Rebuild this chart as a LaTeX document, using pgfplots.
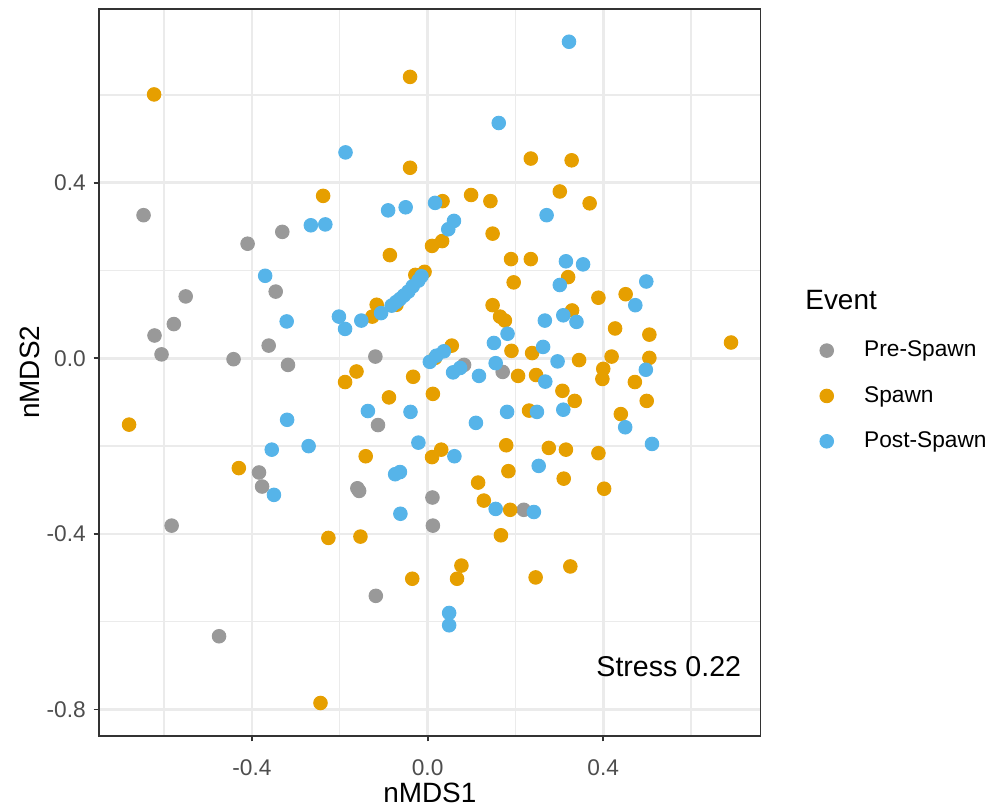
\documentclass[border=0pt]{standalone}
\usepackage{fontspec}
\setmainfont{Liberation Sans}
\usepackage{pgfplots}
\pgfplotsset{compat=1.18}
\definecolor{cpre}{HTML}{999999}
\definecolor{cspawn}{HTML}{E69F00}
\definecolor{cpost}{HTML}{56B4E9}
\definecolor{gridc}{HTML}{EBEBEB}
\definecolor{borderc}{HTML}{333333}
\definecolor{tickc}{HTML}{4D4D4D}
\begin{document}
\begin{tikzpicture}
\path[use as bounding box] (-43.7pt,-30.8pt) rectangle (393.3pt,324.2pt);
\begin{axis}[
  at={(0pt,0pt)}, anchor=south west,
  scale only axis, width=291.3pt, height=320.3pt,
  xmin=-0.748, xmax=0.758, ymin=-0.860, ymax=0.796,
  xtick={-0.4,0,0.4}, ytick={-0.8,-0.4,0,0.4},
  minor xtick={-0.6,-0.2,0.2,0.6}, minor ytick={-0.6,-0.2,0.2,0.6},
  grid=both,
  major grid style={draw=gridc, line width=1.1pt},
  minor grid style={draw=gridc, line width=0.6pt},
  minor tick length=0pt,
  major tick length=2.4pt,
  tick align=outside,
  tick pos=left,
  tick style={draw=borderc, line width=0.8pt},
  axis line style={draw=borderc, line width=0.8pt},
  scaled ticks=false,
  xticklabel={\pgfmathprintnumber[fixed,fixed zerofill,precision=1,assume math mode=true]{\tick}},
  yticklabel={\pgfmathprintnumber[fixed,fixed zerofill,precision=1,assume math mode=true]{\tick}},
  tick label style={font=\fontsize{10}{12}\selectfont, text=tickc},
  xticklabel style={yshift=-4.5pt},
  xlabel={nMDS1}, ylabel={nMDS2},
  every axis x label/.style={at={(rel axis cs:0.5,-0.0784)}, anchor=center, font=\fontsize{12.3}{14}\selectfont},
  every axis y label/.style={at={(rel axis cs:-0.1047,0.5)}, rotate=90, anchor=center, font=\fontsize{12.3}{14}\selectfont},
  legend style={draw=none, fill=none, at={(1.0790,0.5563)}, anchor=north west,
    font=\fontsize{10}{12}\selectfont, row sep=7.5pt, column sep=11.5pt},
  legend cell align=left,
  clip=false,
]
\addplot[only marks, mark=*, mark size=3pt, color=cpre] coordinates {
(-0.647,0.326) (-0.331,0.288) (-0.410,0.261) (-0.346,0.152) (-0.551,0.141)
(-0.578,0.078) (-0.622,0.052) (-0.362,0.029) (-0.606,0.009) (-0.442,-0.002)
(-0.318,-0.015) (-0.384,-0.260) (-0.377,-0.292) (-0.583,-0.381) (-0.475,-0.633)
(-0.119,0.004) (0.083,-0.015) (0.171,-0.031) (-0.113,-0.152) (-0.160,-0.296)
(-0.156,-0.302) (0.011,-0.317) (0.219,-0.345) (0.012,-0.381) (-0.118,-0.541)
};
\addlegendentry{Pre-Spawn}
\addplot[only marks, mark=*, mark size=3pt, color=cspawn] coordinates {
(-0.623,0.601) (-0.238,0.370) (-0.040,0.641) (-0.040,0.434) (0.235,0.455)
(0.034,0.358) (0.099,0.372) (0.143,0.358) (0.033,0.267) (0.010,0.256)
(0.148,0.284) (-0.086,0.235) (0.190,0.226) (0.235,0.226) (0.328,0.451)
(0.301,0.380) (0.369,0.353) (-0.680,-0.151) (-0.430,-0.250) (-0.226,-0.409)
(-0.244,-0.785) (0.196,0.173) (-0.007,0.197) (-0.028,0.190) (-0.071,0.122)
(-0.116,0.122) (-0.126,0.095) (0.148,0.121) (0.165,0.095) (0.176,0.086)
(0.191,0.017) (0.238,0.012) (0.055,0.029) (0.017,0.001) (0.206,-0.040)
(0.247,-0.038) (-0.162,-0.030) (-0.188,-0.054) (-0.033,-0.042) (-0.088,-0.089)
(0.012,-0.081) (0.231,-0.119) (0.179,-0.198) (0.276,-0.204) (-0.141,-0.223)
(0.031,-0.208) (0.010,-0.225) (0.184,-0.257) (0.115,-0.283) (0.128,-0.324)
(0.188,-0.345) (-0.153,-0.406) (0.167,-0.403) (0.077,-0.472) (0.067,-0.502)
(-0.035,-0.502) (0.246,-0.499) (0.325,-0.474) (0.320,0.185) (0.389,0.138)
(0.451,0.146) (0.329,0.109) (0.427,0.068) (0.505,0.054) (0.691,0.036)
(0.345,-0.004) (0.419,0.004) (0.505,0.001) (0.400,-0.024) (0.398,-0.047)
(0.472,-0.054) (0.307,-0.074) (0.335,-0.097) (0.499,-0.097) (0.440,-0.127)
(0.315,-0.208) (0.389,-0.216) (0.310,-0.274) (0.402,-0.297)
};
\addlegendentry{Spawn}
\addplot[only marks, mark=*, mark size=3pt, color=cpost] coordinates {
(-0.266,0.303) (-0.233,0.305) (0.162,0.536) (-0.187,0.469) (-0.090,0.337)
(-0.050,0.344) (0.017,0.354) (0.060,0.313) (0.047,0.294) (0.271,0.326)
(0.322,0.721) (0.315,0.221) (-0.370,0.188) (-0.321,0.084) (-0.320,-0.140)
(-0.271,-0.200) (-0.355,-0.208) (-0.350,-0.311)
(-0.014,0.187) (-0.021,0.177) (-0.034,0.164) (-0.044,0.152) (-0.054,0.143)
(-0.063,0.135) (-0.072,0.128) (-0.082,0.120) (-0.106,0.103)
(-0.151,0.086) (-0.202,0.095) (-0.188,0.067) (0.182,0.056) (0.151,0.035)
(0.267,0.086) (0.263,0.026) (0.005,-0.008) (0.020,0.006) (0.037,0.016)
(0.058,-0.032) (0.074,-0.022) (0.117,-0.040) (0.155,-0.011) (0.268,-0.053)
(-0.136,-0.120) (-0.039,-0.122) (0.110,-0.147) (0.181,-0.122) (0.249,-0.122)
(-0.021,-0.192) (0.061,-0.223) (0.253,-0.245) (-0.063,-0.259) (-0.074,-0.264)
(-0.062,-0.354) (0.155,-0.343) (0.242,-0.350) (0.049,-0.580) (0.049,-0.608)
(0.354,0.214) (0.301,0.167) (0.498,0.175) (0.473,0.121) (0.309,0.098)
(0.339,0.083) (0.296,-0.007) (0.497,-0.026) (0.309,-0.117) (0.450,-0.157)
(0.511,-0.195)
};
\addlegendentry{Post-Spawn}
\node[anchor=base east, inner sep=0pt, font=\fontsize{12.6}{15}\selectfont] at (axis cs:0.715,-0.725) {Stress 0.22};
\node[anchor=west, inner sep=0pt, font=\fontsize{12.3}{14}\selectfont] at (rel axis cs:1.0673,0.5997) {Event};
\end{axis}
\end{tikzpicture}
\end{document}
